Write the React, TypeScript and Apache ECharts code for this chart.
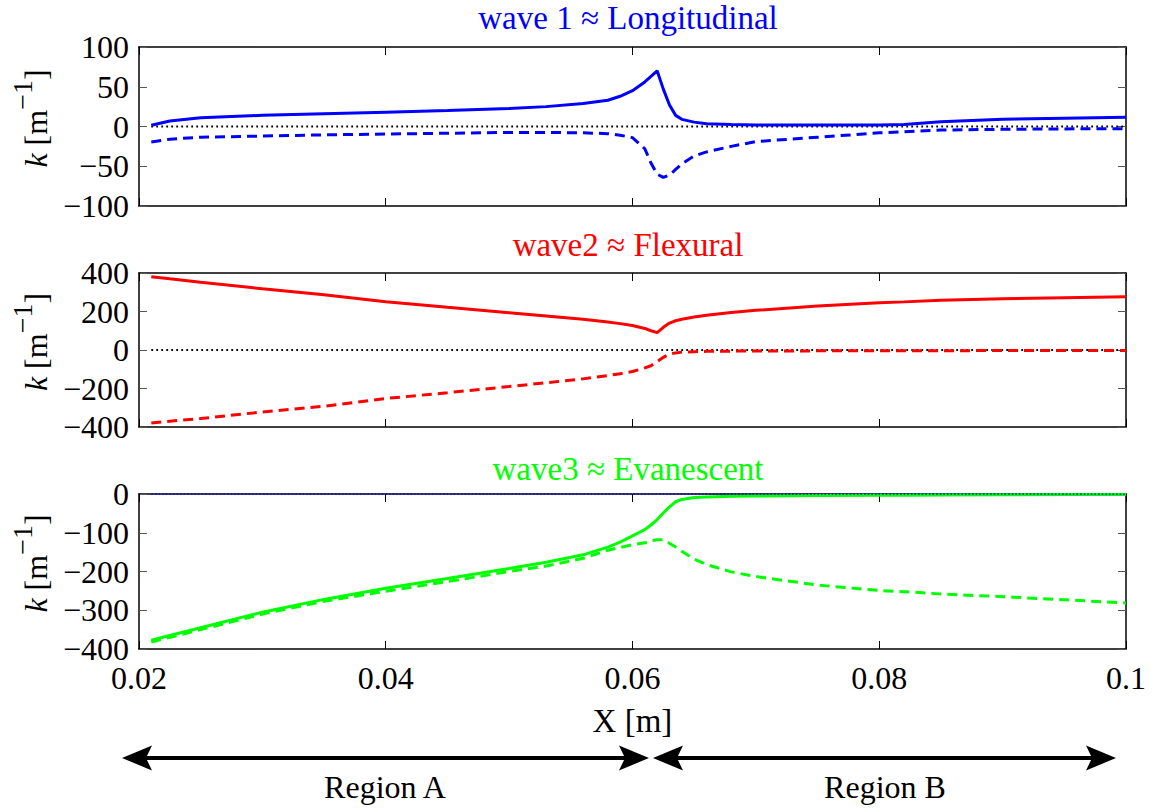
import React, { useEffect, useRef } from "react";
import * as echarts from "echarts";

// ---- data ----
const X = [0.021, 0.0225, 0.025, 0.03, 0.035, 0.04, 0.045, 0.05, 0.053, 0.056, 0.058, 0.059, 0.06, 0.061, 0.0615, 0.062, 0.0625, 0.063, 0.0635, 0.064, 0.065, 0.066, 0.068, 0.07, 0.075, 0.08, 0.082, 0.085, 0.09, 0.095, 0.1];

const wave1Re = [1.5, 7, 11, 14, 16, 18, 20, 22.5, 25, 29, 33, 38, 45, 56, 63, 70, 47, 27, 14, 9, 5.5, 3.5, 2.5, 2, 2, 2, 2.5, 6, 9, 10.5, 11.5];
const wave1Im = [-19.5, -16, -13.5, -12, -10.5, -9.5, -8.5, -7.5, -7.5, -8, -9, -11, -14, -28, -46, -60, -64, -61, -54, -47, -37, -32, -25, -19, -13.5, -8, -6.5, -4.5, -3.5, -3, -2.7];

const wave2Re = [381, 370, 352, 318, 287, 251, 222, 194, 177, 160, 145, 137, 127, 112, 100, 90, 118, 140, 152, 160, 171, 181, 195, 206, 229, 246, 250, 258, 266, 272, 276];
const wave2Im = [-379, -370, -356, -322, -292, -252, -222, -190, -170, -150, -133, -123, -112, -93, -82, -60, -38, -21, -15, -11, -9, -7, -6, -5, -4.5, -4, -4, -3.5, -3, -3, -3];

const wave3Re = [-377, -365, -345, -305, -272, -243, -218, -192, -176, -157, -137, -124, -108, -92, -80, -66, -49, -33, -20, -14, -9, -8, -6, -5, -4, -3, -3, -2.5, -2, -1.5, -1];
const wave3Im = [-382, -370, -350, -310, -277, -251, -226, -200, -186, -166, -145, -138, -131, -126, -121, -118, -118, -127, -137, -148, -168, -182, -201, -213, -235, -249, -252, -258, -265, -273, -281];

const zeroX = [0.021, 0.1];
const zeroY = [0, 0];

const titles = ["wave 1 \u2248 Longitudinal", "wave2 \u2248 Flexural", "wave3 \u2248 Evanescent"];
const titleColors = ["#0000ff", "#ff0000", "#00ff00"];
const yRanges = [
  { min: -100, max: 100, interval: 50 },
  { min: -400, max: 400, interval: 200 },
  { min: -400, max: 0, interval: 100 },
];
const xRange = { min: 0.02, max: 0.1, interval: 0.02 };
const regionLabels = ["Region A", "Region B"];

const FONT = "Liberation Serif";

const pairs = (xs: number[], ys: number[]) => xs.map((x, i) => [x, ys[i]]);

export default function App() {
  const ref = useRef<HTMLDivElement>(null);

  useEffect(() => {
    if (!ref.current) return;
    const chart = echarts.init(ref.current, undefined, { renderer: "svg" });

    const grids = [
      { left: 130, top: 47, width: 996, height: 159 },
      { left: 130, top: 273, width: 996, height: 154 },
      { left: 130, top: 494, width: 996, height: 155 },
    ];

    const minus = (v: number) => (v < 0 ? "\u2212" + Math.abs(v) : String(v));

    const xAxes: any[] = [];
    const yAxes: any[] = [];
    grids.forEach((_, i) => {
      const common = {
        gridIndex: i,
        type: "value",
        min: xRange.min,
        max: xRange.max,
        interval: xRange.interval,
        splitLine: { show: false },
        axisLine: { show: true, onZero: false, lineStyle: { color: "#000", width: 1.5 } },
        axisTick: { show: true, inside: true, length: 8, lineStyle: { color: "#000", width: 1 } },
      };
      xAxes.push({
        ...common,
        position: "bottom",
        axisLabel: {
          show: i === 2,
          margin: 13,
          fontFamily: FONT,
          fontSize: 32,
          color: "#000",
          formatter: (v: number) => String(+v.toFixed(2)),
        },
        name: i === 2 ? "X [m]" : "",
        nameLocation: "middle",
        nameGap: 55,
        nameTextStyle: { fontFamily: FONT, fontSize: 33, color: "#000" },
      });
      xAxes.push({ ...common, position: "top", axisLabel: { show: false } });

      const yc = {
        gridIndex: i,
        type: "value",
        min: yRanges[i].min,
        max: yRanges[i].max,
        interval: yRanges[i].interval,
        splitLine: { show: false },
        axisLine: { show: true, onZero: false, lineStyle: { color: "#000", width: 1.5 } },
        axisTick: { show: true, inside: true, length: 8, lineStyle: { color: "#555", width: 1 } },
      };
      yAxes.push({
        ...yc,
        position: "left",
        axisLabel: { margin: 10, fontFamily: FONT, fontSize: 32, color: "#000", formatter: minus },
        name: "{i|k}{n| [m}{s|\u22121}{n|]}",
        nameLocation: "middle",
        nameGap: 79,
        nameTextStyle: {
          fontFamily: FONT,
          fontSize: 32,
          color: "#000",
          rich: {
            i: { fontFamily: FONT, fontSize: 32, fontStyle: "italic", color: "#000", lineHeight: 44, verticalAlign: "bottom", padding: [0, 0, 0, 16] },
            n: { fontFamily: FONT, fontSize: 32, color: "#000", lineHeight: 44, verticalAlign: "bottom" },
            s: { fontFamily: FONT, fontSize: 28, color: "#000", lineHeight: 30, verticalAlign: "top" },
          },
        },
      });
      yAxes.push({ ...yc, position: "right", axisLabel: { show: false } });
    });

    const line = (
      grid: number,
      xs: number[],
      ys: number[],
      color: string,
      width: number,
      type: any,
      z = 2
    ) => ({
      type: "line",
      xAxisIndex: grid * 2,
      yAxisIndex: grid * 2,
      data: pairs(xs, ys),
      showSymbol: false,
      symbol: "none",
      smooth: false,
      z,
      lineStyle: { color, width, type },
      silent: true,
    });

    const series = [
      line(0, zeroX, zeroY, "#000", 1.8, [1.8, 3.2], 1),
      line(0, X, wave1Re, "#0000ff", 3, "solid"),
      line(0, X, wave1Im, "#0000ff", 3, [10, 6]),
      line(1, zeroX, zeroY, "#000", 1.8, [1.8, 3.2], 1),
      line(1, X, wave2Re, "#ff0000", 3, "solid"),
      line(1, X, wave2Im, "#ff0000", 3, [10, 6]),
      line(2, X, wave3Re, "#00ff00", 3, "solid"),
      line(2, X, wave3Im, "#00ff00", 3, [10, 6]),
      line(2, zeroX, zeroY, "#0000ff", 1.6, [1.6, 2], 3),
    ];

    const arrowY = 758;
    const head = (tipX: number, dir: number) => ({
      type: "polygon",
      shape: {
        points: [
          [tipX, arrowY],
          [tipX - dir * 30, arrowY - 12.5],
          [tipX - dir * 24, arrowY],
          [tipX - dir * 30, arrowY + 12.5],
        ],
      },
      style: { fill: "#000" },
    });
    const arrow = (x1: number, x2: number) => [
      { type: "line", shape: { x1: x1 + 20, y1: arrowY, x2: x2 - 20, y2: arrowY }, style: { stroke: "#000", lineWidth: 4 } },
      head(x1, -1),
      head(x2, 1),
    ];

    const titleY = [18, 245, 469];
    const graphic: any[] = [
      ...titles.map((t, i) => ({
        type: "text",
        x: 628,
        y: titleY[i],
        style: {
          text: t,
          font: `33px "${FONT}"`,
          fill: titleColors[i],
          align: "center",
          verticalAlign: "middle",
          textAlign: "center",
          textVerticalAlign: "middle",
        },
      })),
      ...arrow(122, 649),
      ...arrow(653, 1116),
      ...regionLabels.map((t, i) => ({
        type: "text",
        x: i === 0 ? 385 : 885,
        y: 787,
        style: {
          text: t,
          font: `32px "${FONT}"`,
          fill: "#000",
          align: "center",
          verticalAlign: "middle",
          textAlign: "center",
          textVerticalAlign: "middle",
        },
      })),
    ];

    chart.setOption({
      animation: false,
      backgroundColor: "#fff",
      grid: grids,
      xAxis: xAxes,
      yAxis: yAxes,
      series,
      graphic,
    });

    return () => chart.dispose();
  }, []);

  return (
    <div
      ref={ref}
      style={{ position: "fixed", left: 0, top: 0, width: 1155, height: 812, background: "#fff" }}
    />
  );
}
